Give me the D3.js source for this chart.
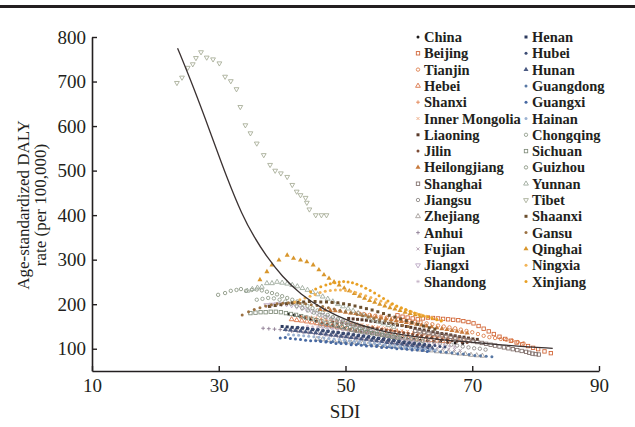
<!DOCTYPE html>
<html>
<head>
<meta charset="utf-8">
<script src="https://cdn.jsdelivr.net/npm/d3@7"></script>
<style>
  body { margin: 0; background: #fff; }
  svg { display: block; }
  text { font-family: "Liberation Serif", "Times New Roman", serif; fill: #231f20; }
</style>
</head>
<body>
<svg id="chart" width="635" height="427"></svg>
<script>
// values, one pair of arrays per region (1990-2019)
var sdiChina = [41.0,41.9,42.8,43.6,44.5,45.4,46.3,47.1,48.0,48.9,49.8,50.7,51.6,52.5,53.4,54.3,55.2,56.1,57.0,57.9,58.9,59.8,60.8,61.8,62.9,63.9,65.0,66.1,67.3,68.5];
var dalyChina = [178,176,173,170,166,162,158,155,152,149,146,143,140,138,136,134,132,130,128,126,124,122,121,119,118,117,116,114,113,112];
var sdiBeijing = [58.2,59.0,59.8,60.6,61.4,62.2,63.0,63.8,64.6,65.4,66.2,67.0,67.8,68.6,69.4,70.2,71.0,71.8,72.6,73.4,74.3,75.2,76.1,77.0,77.9,78.8,79.6,80.4,81.4,82.4];
var dalyBeijing = [175,172,170,168,166,168,170,169,168,167,166,165,164,162,160,157,151,145,139,133,127,122,118,114,110,106,102,99,94,90];
var sdiTianjin = [52.0,52.9,53.8,54.7,55.6,56.5,57.4,58.3,59.2,60.1,61.0,61.9,62.8,63.7,64.6,65.5,66.4,67.3,68.2,69.1,70.0,70.9,71.8,72.7,73.6,74.5,75.4,76.3,77.2,78.1];
var dalyTianjin = [180,178,176,174,172,170,168,166,165,163,161,159,157,155,152,150,148,146,143,140,137,133,129,126,124,122,120,118,115,112];
var sdiHebei = [41.5,42.3,43.1,43.9,44.7,45.5,46.3,47.1,47.9,48.7,49.5,50.3,51.1,51.9,52.7,53.6,54.5,55.4,56.3,57.2,58.1,59.0,59.9,60.8,61.7,62.6,63.5,64.4,65.3,66.2];
var dalyHebei = [166,164,163,161,159,157,155,153,151,149,147,145,143,141,139,137,135,133,131,129,127,125,124,122,121,120,119,118,117,116];
var sdiShanxi = [43.0,43.8,44.6,45.4,46.2,47.0,47.8,48.6,49.4,50.2,51.0,51.8,52.6,53.4,54.2,55.0,55.8,56.6,57.4,58.2,59.0,59.8,60.6,61.4,62.2,63.0,63.8,64.6,65.4,66.2];
var dalyShanxi = [172,171,170,168,166,164,163,161,159,157,156,154,152,150,149,147,145,143,141,140,138,136,134,132,131,129,127,126,124,122];
var sdiInnerMongolia = [44.5,45.3,46.1,46.9,47.7,48.5,49.3,50.1,50.9,51.7,52.6,53.5,54.4,55.3,56.2,57.1,58.0,58.9,59.8,60.7,61.6,62.5,63.4,64.3,65.2,66.1,67.0,67.9,68.8,69.7];
var dalyInnerMongolia = [170,169,168,167,165,163,162,160,158,156,154,152,150,149,147,145,143,141,139,137,135,133,131,129,127,126,124,122,120,118];
var sdiLiaoning = [50.5,51.2,51.9,52.6,53.3,54.0,54.7,55.4,56.1,56.8,57.5,58.2,58.9,59.6,60.3,61.0,61.7,62.4,63.1,63.8,64.5,65.2,65.9,66.6,67.3,68.0,68.7,69.4,70.1,70.8];
var dalyLiaoning = [168,167,166,165,164,162,161,160,158,157,155,153,152,150,148,146,144,142,140,138,136,134,133,131,129,127,126,124,122,121];
var sdiJilin = [48.0,48.7,49.4,50.1,50.8,51.5,52.2,52.9,53.6,54.3,55.0,55.7,56.4,57.1,57.8,58.5,59.2,59.9,60.6,61.3,62.0,62.8,63.6,64.4,65.2,66.0,66.8,67.6,68.4,69.2];
var dalyJilin = [160,158,157,156,154,153,151,150,148,147,145,144,142,141,139,137,136,134,132,130,129,127,125,123,121,120,118,117,115,114];
var sdiHeilongjiang = [46.0,46.8,47.6,48.4,49.2,50.0,50.8,51.6,52.4,53.2,54.0,54.8,55.6,56.4,57.2,58.0,58.8,59.6,60.4,61.2,62.0,62.8,63.6,64.4,65.2,66.0,66.8,67.6,68.4,69.2];
var dalyHeilongjiang = [188,187,186,185,184,182,180,179,177,175,173,171,169,167,165,163,161,159,157,155,153,151,149,147,145,143,141,139,137,135];
var sdiShanghai = [61.0,61.7,62.4,63.1,63.8,64.5,65.2,65.9,66.6,67.3,68.0,68.7,69.4,70.1,70.8,71.5,72.2,72.9,73.6,74.3,75.0,75.7,76.4,77.1,77.8,78.5,79.0,79.5,80.0,80.5];
var dalyShanghai = [140,139,137,135,134,132,130,128,127,125,123,121,119,117,115,113,111,109,107,105,103,101,99,97,95,93,91,89,88,87];
var sdiJiangsu = [46.0,46.9,47.8,48.7,49.6,50.5,51.4,52.3,53.2,54.1,55.0,55.9,56.8,57.7,58.6,59.5,60.4,61.3,62.2,63.1,64.0,64.9,65.8,66.7,67.6,68.5,69.4,70.3,71.2,72.1];
var dalyJiangsu = [152,150,148,146,144,142,140,139,137,135,133,131,129,127,125,124,122,120,118,116,114,112,110,109,107,105,103,101,100,98];
var sdiZhejiang = [45.5,46.4,47.3,48.2,49.1,50.0,50.9,51.8,52.7,53.6,54.5,55.4,56.3,57.2,58.1,59.0,59.9,60.8,61.7,62.6,63.5,64.4,65.3,66.2,67.1,68.0,68.9,69.8,70.7,71.6];
var dalyZhejiang = [122,121,119,118,117,116,114,113,112,110,109,108,106,105,104,102,101,100,98,97,96,94,93,92,90,89,88,86,85,84];
var sdiAnhui = [37.0,37.9,38.8,39.7,40.6,41.5,42.4,43.3,44.2,45.1,46.0,46.9,47.8,48.7,49.6,50.5,51.4,52.3,53.2,54.1,55.0,55.9,56.8,57.7,58.6,59.5,60.4,61.3,62.2,63.1];
var dalyAnhui = [146,145,144,143,142,140,139,137,136,134,133,131,130,128,127,125,124,122,120,119,117,116,114,112,111,109,108,106,104,103];
var sdiFujian = [42.0,42.9,43.8,44.7,45.6,46.5,47.4,48.3,49.2,50.1,51.0,51.9,52.8,53.7,54.6,55.5,56.4,57.3,58.2,59.1,60.0,60.9,61.8,62.7,63.6,64.5,65.4,66.3,67.2,68.1];
var dalyFujian = [140,139,137,136,134,133,131,130,128,127,125,124,122,121,119,118,116,115,113,111,110,108,107,105,104,102,101,99,98,96];
var sdiJiangxi = [37.5,38.3,39.1,39.9,40.7,41.5,42.3,43.1,43.9,44.7,45.5,46.3,47.1,47.9,48.7,49.5,50.3,51.1,51.9,52.7,53.5,54.3,55.1,55.9,56.7,57.5,58.3,59.1,59.9,60.7];
var dalyJiangxi = [198,199,200,201,200,198,195,192,188,184,180,176,172,168,164,160,156,152,148,144,140,137,134,131,128,125,122,119,116,113];
var sdiShandong = [44.0,44.8,45.6,46.4,47.2,48.0,48.8,49.6,50.4,51.2,52.0,52.8,53.6,54.4,55.2,56.0,56.8,57.6,58.4,59.2,60.0,60.8,61.6,62.4,63.2,64.0,64.8,65.6,66.4,67.2];
var dalyShandong = [150,149,148,147,146,145,143,142,140,139,137,135,134,132,130,128,127,125,123,121,120,118,116,114,113,111,109,108,106,104];
var sdiHenan = [40.0,40.8,41.6,42.4,43.2,44.0,44.8,45.6,46.4,47.2,48.0,48.8,49.6,50.4,51.2,52.0,52.8,53.6,54.4,55.2,56.0,56.8,57.6,58.4,59.2,60.0,60.8,61.6,62.4,63.2];
var dalyHenan = [150,149,148,147,146,145,143,142,140,139,137,136,134,133,131,129,128,126,124,123,121,119,118,116,114,113,111,110,108,107];
var sdiHubei = [42.5,43.3,44.1,44.9,45.7,46.5,47.3,48.1,48.9,49.7,50.5,51.3,52.1,52.9,53.7,54.5,55.3,56.1,56.9,57.7,58.5,59.3,60.1,60.9,61.7,62.5,63.3,64.1,64.9,65.7];
var dalyHubei = [148,147,145,144,143,141,140,138,137,135,134,132,131,129,128,126,124,123,121,119,118,116,114,113,111,110,108,107,105,104];
var sdiHunan = [40.5,41.3,42.1,42.9,43.7,44.5,45.3,46.1,46.9,47.7,48.5,49.3,50.1,50.9,51.7,52.5,53.3,54.1,54.9,55.7,56.5,57.3,58.1,58.9,59.7,60.5,61.3,62.1,62.9,63.7];
var dalyHunan = [143,142,141,140,138,137,136,134,133,131,130,128,127,125,124,122,121,119,118,116,114,113,111,110,108,107,105,104,102,101];
var sdiGuangdong = [46.0,47.0,48.0,49.0,50.0,51.0,52.0,53.0,54.0,55.0,56.0,56.9,57.8,58.7,59.6,60.5,61.4,62.3,63.2,64.1,65.0,65.9,66.8,67.7,68.6,69.5,70.4,71.3,72.2,73.1];
var dalyGuangdong = [118,117,116,115,114,113,112,110,109,108,107,105,104,103,101,100,99,97,96,95,93,92,91,89,88,87,85,84,83,82];
var sdiGuangxi = [39.7,40.5,41.3,42.1,42.9,43.7,44.5,45.3,46.1,46.9,47.7,48.5,49.3,50.1,50.9,51.7,52.5,53.3,54.1,54.9,55.7,56.5,57.3,58.1,58.9,59.7,60.5,61.3,62.1,62.9];
var dalyGuangxi = [124,125,123,122,121,119,118,118,116,115,114,112,112,111,109,109,108,106,106,105,103,103,102,100,100,99,97,97,96,94];
var sdiHainan = [41.0,41.8,42.6,43.4,44.2,45.0,45.8,46.6,47.4,48.2,49.0,49.8,50.6,51.4,52.2,53.0,53.8,54.6,55.4,56.2,57.0,57.8,58.6,59.4,60.2,61.0,61.8,62.6,63.4,64.2];
var dalyHainan = [132,131,130,129,128,127,126,124,123,122,121,119,118,117,116,114,113,112,111,109,108,107,106,104,103,102,101,100,98,97];
var sdiChongqing = [36.0,36.9,37.8,38.7,39.6,40.5,41.4,42.3,43.2,44.1,45.0,45.9,46.8,47.7,48.6,49.5,50.4,51.3,52.2,53.1,54.0,54.9,55.8,56.7,57.6,58.5,59.4,60.3,61.2,62.1];
var dalyChongqing = [210,212,214,213,210,206,201,196,191,186,181,176,171,166,162,158,154,150,146,143,140,137,134,131,128,126,123,121,119,117];
var sdiSichuan = [35.0,35.8,36.6,37.4,38.2,39.0,39.8,40.6,41.4,42.2,43.0,43.8,44.6,45.4,46.2,47.0,47.8,48.6,49.4,50.2,51.0,51.8,52.6,53.4,54.2,55.0,55.8,56.6,57.4,58.2];
var dalySichuan = [180,181,182,182,183,183,182,180,178,176,173,170,167,164,161,158,155,152,149,146,143,141,139,137,135,133,131,129,127,125];
var sdiGuizhou = [29.9,31.0,31.9,32.8,33.5,34.3,35.2,36.0,36.8,37.6,38.4,39.2,40.0,40.8,41.6,42.4,43.2,44.0,44.8,45.6,46.4,47.2,48.0,48.8,49.6,50.4,51.2,52.0,52.8,53.6];
var dalyGuizhou = [221,225,230,232,234,230,232,233,231,228,225,222,218,214,210,206,201,196,191,186,181,176,171,167,163,159,155,152,149,146];
var sdiYunnan = [34.5,35.3,36.1,36.8,37.6,38.4,39.2,40.0,40.8,41.6,42.4,43.2,44.0,44.8,45.6,46.4,47.2,48.0,48.8,49.6,50.4,51.2,52.0,52.8,53.6,54.4,55.2,56.0,56.8,57.6];
var dalyYunnan = [230,234,237,239,247,247,250,248,246,243,240,236,232,227,222,217,212,206,200,195,190,185,180,175,170,165,161,157,153,149];
var sdiTibet = [23.4,24.2,25.1,25.9,26.4,27.2,28.1,29.1,30.1,31.0,31.9,32.8,33.4,34.2,35.0,36.0,37.1,38.1,38.9,39.8,40.8,41.6,42.3,42.9,43.7,43.9,44.3,45.3,46.2,47.0];
var dalyTibet = [697,709,731,739,753,766,754,750,741,711,701,683,643,602,584,561,535,513,500,494,486,468,453,445,439,428,413,400,400,400];
var sdiShaanxi = [38.0,38.9,39.8,40.7,41.6,42.5,43.4,44.3,45.2,46.1,47.0,47.9,48.8,49.7,50.6,51.5,52.4,53.3,54.2,55.1,56.0,56.9,57.8,58.7,59.6,60.5,61.4,62.3,63.2,64.1];
var dalyShaanxi = [195,197,199,201,203,204,205,206,206,205,205,204,203,201,199,196,193,190,187,183,179,175,171,167,163,159,155,151,147,144];
var sdiGansu = [33.7,34.7,35.6,36.5,37.4,38.3,39.2,40.1,41.0,41.9,42.8,43.7,44.6,45.5,46.4,47.3,48.2,49.1,50.0,50.9,51.8,52.7,53.6,54.5,55.4,56.3,57.2,58.1,59.0,59.9];
var dalyGansu = [176,183,188,192,196,199,201,202,203,203,202,201,199,197,195,192,189,186,183,180,177,174,171,168,165,162,159,156,153,150];
var sdiQinghai = [36.5,37.6,38.4,39.5,40.8,41.8,42.9,43.9,44.9,45.8,46.6,47.4,48.2,49.0,49.8,50.6,51.4,52.2,53.0,53.8,54.6,55.4,56.2,57.0,57.8,58.6,59.4,60.2,61.0,61.8];
var dalyQinghai = [255,273,288,299,310,303,299,295,288,277,266,258,250,243,236,230,224,218,213,208,204,200,196,192,189,186,182,179,176,173];
var sdiNingxia = [42.0,42.8,43.6,44.4,45.2,46.0,46.8,47.6,48.4,49.2,50.0,50.8,51.6,52.4,53.2,54.0,54.8,55.6,56.4,57.2,58.0,58.8,59.6,60.4,61.2,62.0,62.8,63.6,64.4,65.2];
var dalyNingxia = [205,210,214,218,222,226,229,231,232,232,231,229,226,223,219,215,211,207,203,199,195,191,187,183,179,176,173,170,167,164];
var sdiXinjiang = [44.5,45.3,46.1,46.9,47.6,48.3,49.0,49.7,50.4,51.1,51.8,52.5,53.2,53.9,54.6,55.3,56.0,56.7,57.4,58.1,58.8,59.5,60.2,60.9,61.6,62.3,63.0,63.7,64.4,65.1];
var dalyXinjiang = [228,234,239,243,246,248,250,251,250,248,245,241,236,231,225,219,213,207,201,196,192,188,184,180,177,174,171,168,165,162];

// fitted curve
var fitSdi = [23.5,26.0,28.7,31.3,33.7,35.6,37.6,40.0,42.9,46.5,50.8,55.0,58.7,65.0,71.3,76.5,82.7];
var fitDaly = [775,688,585,483,400,350,306,262,222,188,160,142,131,120,113,106,101];

var xTicks = [10,30,50,70,90];
var yTicks = [100,200,300,400,500,600,700,800];

var regionNames = ["China","Beijing","Tianjin","Hebei","Shanxi","Inner Mongolia","Liaoning","Jilin",
  "Heilongjiang","Shanghai","Jiangsu","Zhejiang","Anhui","Fujian","Jiangxi","Shandong",
  "Henan","Hubei","Hunan","Guangdong","Guangxi","Hainan","Chongqing","Sichuan",
  "Guizhou","Yunnan","Tibet","Shaanxi","Gansu","Qinghai","Ningxia","Xinjiang"];
var sdiAll = [sdiChina,sdiBeijing,sdiTianjin,sdiHebei,sdiShanxi,sdiInnerMongolia,sdiLiaoning,sdiJilin,
  sdiHeilongjiang,sdiShanghai,sdiJiangsu,sdiZhejiang,sdiAnhui,sdiFujian,sdiJiangxi,sdiShandong,
  sdiHenan,sdiHubei,sdiHunan,sdiGuangdong,sdiGuangxi,sdiHainan,sdiChongqing,sdiSichuan,
  sdiGuizhou,sdiYunnan,sdiTibet,sdiShaanxi,sdiGansu,sdiQinghai,sdiNingxia,sdiXinjiang];
var dalyAll = [dalyChina,dalyBeijing,dalyTianjin,dalyHebei,dalyShanxi,dalyInnerMongolia,dalyLiaoning,dalyJilin,
  dalyHeilongjiang,dalyShanghai,dalyJiangsu,dalyZhejiang,dalyAnhui,dalyFujian,dalyJiangxi,dalyShandong,
  dalyHenan,dalyHubei,dalyHunan,dalyGuangdong,dalyGuangxi,dalyHainan,dalyChongqing,dalySichuan,
  dalyGuizhou,dalyYunnan,dalyTibet,dalyShaanxi,dalyGansu,dalyQinghai,dalyNingxia,dalyXinjiang];

// marker shape + colour for each region
var markerStyle = [
  ["dot","#1e1a1a"],["osq","#d0602f"],["ocirc","#dc7a45"],["otri","#d86a3a"],
  ["plus","#e07c48"],["times","#eca57c"],["fsq","#5b3b2b"],["dot","#7d4b35"],
  ["ftri","#c87a3c"],["osq","#7c6a66"],["ocirc","#8a8482"],["otri","#a09a96"],
  ["plus","#8a7890"],["times","#a690a4"],["dtri","#b8a4c2"],["star","#c4b2c6"],
  ["fsq","#2c3a5e"],["dot","#3c4c74"],["ftri","#4a5a82"],["dot","#5878a4"],
  ["dot","#4668a2"],["dot","#9cb2d2"],["ocirc","#909c8a"],["osq","#7f8b79"],
  ["ocirc","#86927e"],["otri","#9aa698"],["dtri","#a4aa94"],["fsq","#6b4f2e"],
  ["dot","#9b7142"],["ftri","#d8962c"],["dot","#f2b457"],["dot","#e8a024"]
];

var svg = d3.select("#chart");
var x = d3.scaleLinear().domain([10, 90]).range([92, 599]);
var y = d3.scaleLinear().domain([50, 800]).range([371, 37]);

// top rule
svg.append("rect").attr("x", 0).attr("y", 5).attr("width", 635).attr("height", 3).attr("fill", "#231f20");

function drawMarker(g, kind, color) {
  if (kind === "dot") {
    g.append("circle").attr("r", 1.5).attr("fill", color);
  } else if (kind === "ocirc") {
    g.append("circle").attr("r", 1.7).attr("fill", "none").attr("stroke", color).attr("stroke-width", 0.85);
  } else if (kind === "osq") {
    g.append("rect").attr("x", -1.7).attr("y", -1.7).attr("width", 3.4).attr("height", 3.4)
      .attr("fill", "none").attr("stroke", color).attr("stroke-width", 0.85);
  } else if (kind === "fsq") {
    g.append("rect").attr("x", -1.5).attr("y", -1.5).attr("width", 3).attr("height", 3).attr("fill", color);
  } else if (kind === "otri" || kind === "dtri") {
    g.append("path").attr("d", d3.symbol().type(d3.symbolTriangle).size(10)())
      .attr("transform", kind === "dtri" ? "rotate(180)" : null)
      .attr("fill", "none").attr("stroke", color).attr("stroke-width", 0.85);
  } else if (kind === "ftri") {
    g.append("path").attr("d", d3.symbol().type(d3.symbolTriangle).size(11)()).attr("fill", color);
  } else if (kind === "plus") {
    g.append("path").attr("d", "M-1.9,0H1.9M0,-1.9V1.9").attr("stroke", color).attr("stroke-width", 0.85);
  } else if (kind === "times") {
    g.append("path").attr("d", "M-1.5,-1.5L1.5,1.5M-1.5,1.5L1.5,-1.5").attr("stroke", color).attr("stroke-width", 0.85);
  } else if (kind === "star") {
    g.append("path").attr("d", "M-1.7,0H1.7M0,-1.7V1.7M-1.2,-1.2L1.2,1.2M-1.2,1.2L1.2,-1.2")
      .attr("stroke", color).attr("stroke-width", 0.7);
  }
}

// points
var pts = svg.append("g");
regionNames.forEach(function(name, i) {
  var rows = sdiAll[i].map(function(s, k) { return {sdi: s, daly: dalyAll[i][k]}; });
  rows.forEach(function(d) {
    var g = pts.append("g").attr("transform", "translate(" + x(d.sdi) + "," + y(d.daly) + ")");
    drawMarker(g, markerStyle[i][0], markerStyle[i][1]);
  });
});

// fitted curve
var fitRows = fitSdi.map(function(s, k) { return [s, fitDaly[k]]; });
svg.append("path")
  .datum(fitRows)
  .attr("fill", "none")
  .attr("stroke", "#3b3232")
  .attr("stroke-width", 1.3)
  .attr("d", d3.line().x(function(d) { return x(d[0]); }).y(function(d) { return y(d[1]); }).curve(d3.curveBasis));

// axes
var xAxis = svg.append("g").attr("transform", "translate(0,371)")
  .call(d3.axisBottom(x).tickValues(xTicks).tickSize(-5).tickSizeOuter(0).tickPadding(8));
var yAxis = svg.append("g").attr("transform", "translate(92,0)")
  .call(d3.axisLeft(y).tickValues(yTicks).tickSize(-5).tickSizeOuter(0).tickPadding(6));
[xAxis, yAxis].forEach(function(a) {
  a.select(".domain").attr("stroke", "#231f20").attr("stroke-width", 1.6);
  a.selectAll(".tick line").attr("stroke", "#231f20").attr("stroke-width", 1.4);
  a.selectAll("text").attr("font-size", 19).attr("font-family", "'Liberation Serif', serif").attr("fill", "#231f20");
});

// axis titles
svg.append("text").attr("x", 345).attr("y", 418).attr("text-anchor", "middle").attr("font-size", 19).text("SDI");
var yt = svg.append("text").attr("transform", "translate(0,205) rotate(-90)").attr("text-anchor", "middle").attr("font-size", 17);
yt.append("tspan").attr("x", 0).attr("y", 29).text("Age-standardized DALY");
yt.append("tspan").attr("x", 0).attr("y", 46).text("rate (per 100,000)");

// legend, two columns of 16
var legend = svg.append("g");
regionNames.forEach(function(name, i) {
  var col = i < 16 ? 0 : 1;
  var row = i % 16;
  var lx = col === 0 ? 418 : 526;
  var ly = 37 + row * 16.3;
  var g = legend.append("g").attr("transform", "translate(" + lx + "," + ly + ")");
  drawMarker(g, markerStyle[i][0], markerStyle[i][1]);
  legend.append("text").attr("x", lx + 6).attr("y", ly + 5).attr("font-size", 14.5).attr("font-weight", "bold").text(name);
});
</script>
</body>
</html>
